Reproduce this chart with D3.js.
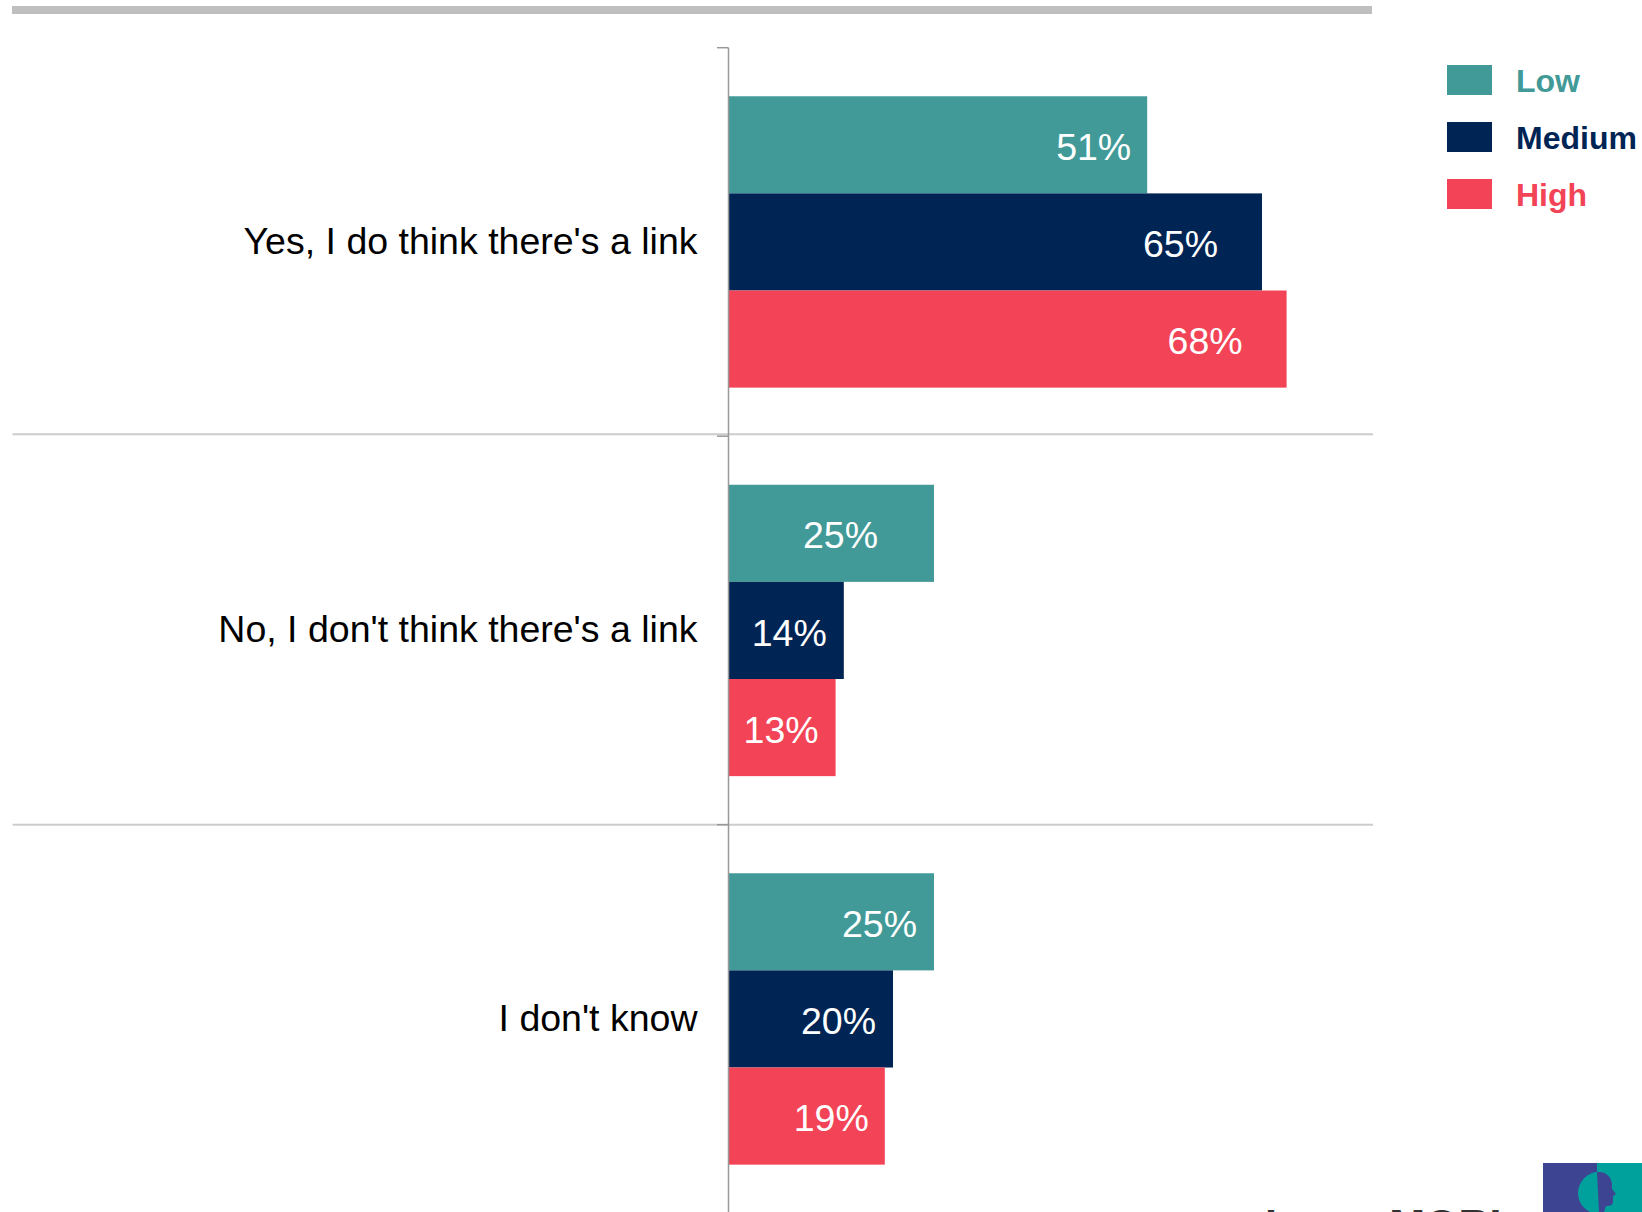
<!DOCTYPE html>
<html>
<head>
<meta charset="utf-8">
<script src="https://cdn.jsdelivr.net/npm/d3@7/dist/d3.min.js"></script>
<style>
  html, body { margin: 0; padding: 0; background: #fff; }
  svg { display: block; font-family: "Liberation Sans", Arial, sans-serif; }
</style>
</head>
<body>
<svg id="chart" width="1642" height="1212"></svg>
<script>
// Survey answers, one group per answer
const categories = ["Yes, I do think there's a link", "No, I don't think there's a link", "I don't know"];
const seriesNames = ["Low", "Medium", "High"];
const lowValues = [51, 25, 25];
const mediumValues = [65, 14, 20];
const highValues = [68, 13, 19];
const seriesColors = ["#429a98", "#002454", "#f24456"];

// Label inset from the bar end (pixels), per category and series
const labelInset = [[16, 44, 44], [56, 17, 17], [17, 17, 16]];

const valuesBySeries = [lowValues, mediumValues, highValues];

const svg = d3.select("#chart");
const W = 1642, H = 1212;

const axisX = 729;
const x = d3.scaleLinear().domain([0, 80]).range([axisX, axisX + 656]);
const y = d3.scaleBand().domain(categories).range([47.7, 1213.2]).paddingInner(0).paddingOuter(0);
const ySub = d3.scaleBand().domain(seriesNames).range([0, y.bandwidth()]).paddingInner(0).paddingOuter(0.5);

// Top rule
svg.append("rect").attr("x", 12).attr("y", 6).attr("width", 1360).attr("height", 8).attr("fill", "#bfbfbf");

// Separators between groups
categories.slice(1).forEach((c, i) => {
  const yy = y(c) - (i === 0 ? 2 : 0);
  svg.append("line")
    .attr("x1", 12.5).attr("x2", 1373)
    .attr("y1", yy).attr("y2", yy)
    .attr("stroke", "#cccccc").attr("stroke-width", 2);
});

// Bars
const rows = [];
categories.forEach((c, ci) => {
  seriesNames.forEach((s, si) => {
    rows.push({ cat: c, ci, series: s, si, value: valuesBySeries[si][ci] });
  });
});

const g = svg.append("g");
g.selectAll("rect.bar").data(rows).join("rect")
  .attr("class", "bar")
  .attr("x", x(0))
  .attr("y", d => y(d.cat) + ySub(d.series))
  .attr("width", d => x(d.value) - x(0))
  .attr("height", ySub.bandwidth())
  .attr("fill", d => seriesColors[d.si]);

g.selectAll("text.val").data(rows).join("text")
  .attr("class", "val")
  .attr("x", d => x(d.value) - labelInset[d.ci][d.si])
  .attr("y", d => y(d.cat) + ySub(d.series) + ySub.bandwidth() / 2 + 2)
  .attr("dy", "0.35em")
  .attr("text-anchor", "end")
  .attr("font-size", 37.5)
  .attr("fill", "#ffffff")
  .text(d => d.value + "%");

// Category axis
const axis = svg.append("g").attr("transform", `translate(${axisX - 0.5},0)`)
  .call(d3.axisLeft(y).tickSize(0).tickPadding(31));
axis.select(".domain").remove();
axis.selectAll(".tick text")
  .attr("font-size", 37.5)
  .attr("fill", "#000")
  .attr("font-family", "Liberation Sans, Arial, sans-serif");

svg.append("line")
  .attr("x1", axisX - 0.5).attr("x2", axisX - 0.5)
  .attr("y1", 47.7).attr("y2", H)
  .attr("stroke", "#999999").attr("stroke-width", 1.5);

// Group boundary ticks
const bounds = categories.map(c => y(c));
svg.selectAll("line.btick").data(bounds).join("line")
  .attr("class", "btick")
  .attr("x1", 717).attr("x2", axisX - 0.5)
  .attr("y1", d => d).attr("y2", d => d)
  .attr("stroke", "#999999").attr("stroke-width", 1.5);

// Legend
const legend = svg.append("g").attr("transform", "translate(1447,65)");
seriesNames.forEach((s, i) => {
  const row = legend.append("g").attr("transform", `translate(0,${i * 57})`);
  row.append("rect").attr("width", 45).attr("height", 30).attr("fill", seriesColors[i]);
  row.append("text").attr("x", 69).attr("y", 27)
    .attr("font-size", 32).attr("font-weight", "bold")
    .attr("fill", seriesColors[i]).text(s);
});

// Brand mark
svg.append("text").attr("x", 1265).attr("y", 1239)
  .attr("font-size", 43).attr("font-weight", "bold").attr("fill", "#333333")
  .text("Ipsos MORI");

const logo = svg.append("g");
logo.append("defs").append("clipPath").attr("id", "leftHalf")
  .append("rect").attr("x", 1543).attr("y", 1163).attr("width", 54).attr("height", 49);
logo.append("rect").attr("x", 1543).attr("y", 1163).attr("width", 54).attr("height", 49).attr("fill", "#3d4593");
logo.append("rect").attr("x", 1597).attr("y", 1163).attr("width", 45).attr("height", 49).attr("fill", "#00a19c");
logo.append("circle").attr("cx", 1599).attr("cy", 1193).attr("r", 21)
  .attr("fill", "#00a19c").attr("clip-path", "url(#leftHalf)");
logo.append("path")
  .attr("d", "M1597,1172 C1606,1171 1612,1177 1612,1185 L1612,1189 L1616,1194 L1613,1196 L1613,1202 C1613,1205 1610,1206 1606,1206 L1604,1212 L1599,1212 Z")
  .attr("fill", "#3d4593");
</script>
</body>
</html>
